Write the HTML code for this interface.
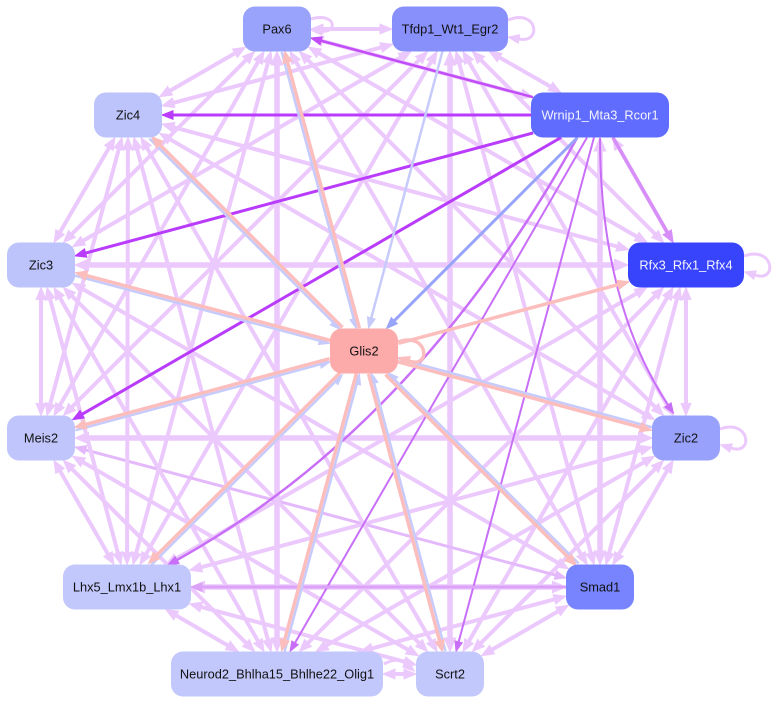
<!DOCTYPE html>
<html><head><meta charset="utf-8"><style>
html,body{margin:0;padding:0;background:#fff;}
svg{display:block;}
text{font-family:"Liberation Sans",Arial,sans-serif;font-size:12.8px;text-anchor:middle;}
.lv{stroke:#ecc9fc;stroke-width:4;fill:none;}
.lk{stroke-width:5.5;}
.lt{stroke-width:3;}
.l2{stroke:#e4b9fb;}
.pu{stroke:#b93bfb;stroke-width:3;fill:none;}
.pu2{stroke:#c24cf8;stroke-width:2.5;fill:none;}
.pu3{stroke:#d78ef8;stroke-width:3.5;fill:none;}
.pu4{stroke:#c96ef8;stroke-width:2;fill:none;}
.pu5{stroke:#dba2f8;stroke-width:3;fill:none;}
.bw{stroke:#98a4f8;stroke-width:3;fill:none;}
.bl{stroke:#c6cbfc;stroke-width:2.5;fill:none;}
.pk{stroke:#fcbdbd;stroke-width:3.5;fill:none;}
</style></head><body>
<svg id="S" width="776" height="704" viewBox="0 0 776 704" xmlns="http://www.w3.org/2000/svg">
<g id="E">
<!-- lavender ring edges -->
<line class="lv a2" x1="277" y1="29" x2="450" y2="29"/>
<line class="lv a2" x1="277" y1="29" x2="600" y2="115"/>
<line class="lv a2" x1="277" y1="29" x2="686" y2="265"/>
<line class="lv a2" x1="277" y1="29" x2="686" y2="438"/>
<line class="lv a2" x1="277" y1="29" x2="600" y2="587"/>
<line class="lv lk a2" x1="277" y1="29" x2="277" y2="674"/>
<line class="lv a2" x1="277" y1="29" x2="127" y2="587"/>
<line class="lv a2" x1="277" y1="29" x2="41" y2="438"/>
<line class="lv a2" x1="277" y1="29" x2="41" y2="265"/>
<line class="lv a2" x1="277" y1="29" x2="128" y2="115"/>
<line class="lv a2" x1="450" y1="29" x2="600" y2="115"/>
<line class="lv a2" x1="450" y1="29" x2="686" y2="265"/>
<line class="lv a2" x1="450" y1="29" x2="686" y2="438"/>
<line class="lv a2" x1="450" y1="29" x2="600" y2="587"/>
<line class="lv lk a2" x1="450" y1="29" x2="450" y2="674"/>
<line class="lv a2" x1="450" y1="29" x2="127" y2="587"/>
<line class="lv a2" x1="450" y1="29" x2="41" y2="438"/>
<line class="lv a2" x1="450" y1="29" x2="41" y2="265"/>
<line class="lv a2" x1="450" y1="29" x2="128" y2="115"/>
<line class="lv a2" x1="600" y1="115" x2="686" y2="265"/>
<line class="lv lk a2" x1="600" y1="115" x2="600" y2="587"/>
<line class="lv a2" x1="686" y1="265" x2="686" y2="438"/>
<line class="lv a2" x1="686" y1="265" x2="600" y2="587"/>
<line class="lv a2" x1="686" y1="265" x2="450" y2="674"/>
<line class="lv a2" x1="686" y1="265" x2="277" y2="674"/>
<line class="lv a2" x1="686" y1="265" x2="127" y2="587"/>
<line class="lv lk a2" x1="686" y1="265" x2="41" y2="265"/>
<line class="lv a2" x1="686" y1="265" x2="128" y2="115"/>
<line class="lv a2" x1="686" y1="438" x2="600" y2="587"/>
<line class="lv a2" x1="686" y1="438" x2="450" y2="674"/>
<line class="lv a2" x1="686" y1="438" x2="277" y2="674"/>
<line class="lv a2" x1="686" y1="438" x2="127" y2="587"/>
<line class="lv lk a2" x1="686" y1="438" x2="41" y2="438"/>
<line class="lv a2" x1="686" y1="438" x2="128" y2="115"/>
<line class="lv a2" x1="600" y1="587" x2="450" y2="674"/>
<line class="lv a2" x1="600" y1="587" x2="277" y2="674"/>
<line class="lv lk a2" x1="600" y1="587" x2="127" y2="587"/>
<line class="lv l2 lt a2" x1="600" y1="587" x2="41" y2="438"/>
<line class="lv a2" x1="600" y1="587" x2="41" y2="265"/>
<line class="lv a2" x1="450" y1="674" x2="277" y2="674"/>
<line class="lv a2" x1="450" y1="674" x2="127" y2="587"/>
<line class="lv a2" x1="450" y1="674" x2="41" y2="438"/>
<line class="lv a2" x1="450" y1="674" x2="41" y2="265"/>
<line class="lv a2" x1="450" y1="674" x2="128" y2="115"/>
<line class="lv a2" x1="277" y1="674" x2="127" y2="587"/>
<line class="lv a2" x1="277" y1="674" x2="41" y2="438"/>
<line class="lv a2" x1="277" y1="674" x2="41" y2="265"/>
<line class="lv a2" x1="277" y1="674" x2="128" y2="115"/>
<line class="lv a2" x1="127" y1="587" x2="41" y2="438"/>
<line class="lv a2" x1="127" y1="587" x2="41" y2="265"/>
<line class="lv a2" x1="127" y1="587" x2="128" y2="115"/>
<line class="lv a2" x1="41" y1="438" x2="41" y2="265"/>
<line class="lv a2" x1="41" y1="438" x2="128" y2="115"/>
<line class="lv a2" x1="41" y1="265" x2="128" y2="115"/>
<!-- Wrnip1 outgoing -->
<line class="pu a1" x1="600" y1="115" x2="128" y2="115"/>
<line class="pu a1" x1="600" y1="115" x2="41" y2="265"/>
<line class="pu a1" x1="600" y1="115" x2="41" y2="438"/>
<line class="pu2 a1" x1="600" y1="115" x2="277" y2="29"/>
<line class="pu3 a1" x1="600" y1="115" x2="686" y2="265"/>
<line class="pu4 a1" x1="600" y1="115" x2="450" y2="674"/>
<line class="pu4 a1" x1="600" y1="115" x2="277" y2="674"/>
<line class="pu5 a1" x1="600" y1="587" x2="127" y2="587"/>
<path class="pu4 ar" d="M600,138 C600,250 625,340 668,405"/>
<path class="pu4 ar" style="stroke-width:2.5" d="M577,138 Q417,426 177,560"/>
<!-- blue into Glis2 -->
<line class="bl a1 o1" x1="277" y1="29" x2="364" y2="351"/>
<line class="bl a1 o1" x1="450" y1="29" x2="364" y2="351"/>
<line class="bl a1 o1" x1="128" y1="115" x2="364" y2="351"/>
<line class="bl a1 o1" x1="41" y1="265" x2="364" y2="351"/>
<line class="bl a1 o1" x1="41" y1="438" x2="364" y2="351"/>
<line class="bl a1 o1" x1="127" y1="587" x2="364" y2="351"/>
<line class="bl a1 o1" x1="277" y1="674" x2="364" y2="351"/>
<line class="bl a1 o1" x1="450" y1="674" x2="364" y2="351"/>
<line class="bl a1 o1" x1="600" y1="587" x2="364" y2="351"/>
<line class="bl a1 o1" x1="686" y1="438" x2="364" y2="351"/>
<line class="bw a1" x1="600" y1="115" x2="364" y2="351"/>
<!-- pink out of Glis2 -->
<line class="pk a1 o1" x1="364" y1="351" x2="277" y2="29"/>
<line class="pk a1 o1" x1="364" y1="351" x2="686" y2="265"/>
<line class="pk a1 o1" x1="364" y1="351" x2="686" y2="438"/>
<line class="pk a1 o1" x1="364" y1="351" x2="600" y2="587"/>
<line class="pk a1 o1" x1="364" y1="351" x2="450" y2="674"/>
<line class="pk a1 o1" x1="364" y1="351" x2="277" y2="674"/>
<line class="pk a1 o1" x1="364" y1="351" x2="127" y2="587"/>
<line class="pk a1 o1" x1="364" y1="351" x2="41" y2="438"/>
<line class="pk a1 o1" x1="364" y1="351" x2="41" y2="265"/>
<line class="pk a1 o1" x1="364" y1="351" x2="128" y2="115"/>
<!-- loops -->
<path class="lv lt ar" d="M508,20 C538,8 542,44 519,39"/>
<path class="lv lt ar" d="M744,256 C774,245 778,283 755,275"/>
<path class="lv lt ar" d="M720,429 C750,418 754,456 731,448"/>
<path class="pk lt ar" d="M398,342 C428,331 432,369 409,361"/>
<path class="lv lt ar" d="M311,19 C336,12 338,33 322,31"/>
<path class="lv lt ar" d="M384,664 C395,658 402,660 406,664"/>
</g>
<g id="N">
<rect x="243" y="6.5" width="68" height="45" rx="12" fill="#9aa3fc"/>
<rect x="392" y="6.5" width="116" height="45" rx="12" fill="#8890fc"/>
<rect x="531" y="92.5" width="138" height="45" rx="12" fill="#5f6cfd"/>
<rect x="628" y="242.5" width="116" height="45" rx="12" fill="#3844fc"/>
<rect x="652" y="415.5" width="68" height="45" rx="12" fill="#98a2fc"/>
<rect x="566" y="564.5" width="68" height="45" rx="12" fill="#7784fd"/>
<rect x="416" y="651.5" width="68" height="45" rx="12" fill="#c3c8fc"/>
<rect x="171" y="651.5" width="212" height="45" rx="12" fill="#c3c8fc"/>
<rect x="63" y="564.5" width="128" height="45" rx="12" fill="#c3c8fc"/>
<rect x="7" y="415.5" width="68" height="45" rx="12" fill="#c0c6fc"/>
<rect x="7" y="242.5" width="68" height="45" rx="12" fill="#bdc3fb"/>
<rect x="94" y="92.5" width="68" height="45" rx="12" fill="#bdc3fb"/>
<rect x="330" y="328.5" width="68" height="45" rx="12" fill="#fcaaaa"/>
</g>
<g id="T" fill="#111">
<text x="277" y="33.5">Pax6</text>
<text x="450" y="33.5">Tfdp1_Wt1_Egr2</text>
<text x="600" y="119.5" fill="#f4f4ff">Wrnip1_Mta3_Rcor1</text>
<text x="686" y="269.5" fill="#f4f4ff">Rfx3_Rfx1_Rfx4</text>
<text x="686" y="442.5">Zic2</text>
<text x="600" y="591.5">Smad1</text>
<text x="450" y="678.5">Scrt2</text>
<text x="277" y="678.5">Neurod2_Bhlha15_Bhlhe22_Olig1</text>
<text x="127" y="591.5">Lhx5_Lmx1b_Lhx1</text>
<text x="41" y="442.5">Meis2</text>
<text x="41" y="269.5">Zic3</text>
<text x="128" y="119.5">Zic4</text>
<text x="364" y="355.5">Glis2</text>
</g>
</svg>
<script>
(function(){
var NS='http://www.w3.org/2000/svg';
var nodes=[[277,29,34],[450,29,58],[600,115,69],[686,265,58],[686,438,34],[600,587,34],[450,674,34],[277,674,106],[127,587,64],[41,438,34],[41,265,34],[128,115,34],[364,351,34]];
var HH=22.5,RR=11;
function find(x,y){for(var i=0;i<nodes.length;i++){var n=nodes[i];if(Math.abs(n[0]-x)<1&&Math.abs(n[1]-y)<1)return n;}return null;}
function dist(n,ux,uy){
  var hw=n[2],hh=HH,ax=Math.abs(ux),ay=Math.abs(uy);
  var t=Math.min(ax>1e-9?hw/ax:1e9,ay>1e-9?hh/ay:1e9);
  var px=ax*t,py=ay*t;
  if(px>hw-RR&&py>hh-RR){var cx=hw-RR,cy=hh-RR;var b=ax*cx+ay*cy,c=cx*cx+cy*cy-RR*RR;t=b+Math.sqrt(Math.max(0,b*b-c));}
  return t;
}
function arrow(ref,tx,ty,ux,uy,w,col){
  var L=8+w,h=2.5+0.6*w;var bx=tx-ux*L,by=ty-uy*L;
  var p=document.createElementNS(NS,'polygon');
  p.setAttribute('points',tx+','+ty+' '+(bx-uy*h)+','+(by+ux*h)+' '+(bx+uy*h)+','+(by-ux*h));
  p.setAttribute('fill',col);p.setAttribute('stroke',col);p.setAttribute('stroke-width','1');
  ref.parentNode.insertBefore(p,ref.nextSibling);
  return L;
}
var lines=document.querySelectorAll('#E line');
for(var i=0;i<lines.length;i++){
  var el=lines[i];
  var x1=+el.getAttribute('x1'),y1=+el.getAttribute('y1'),x2=+el.getAttribute('x2'),y2=+el.getAttribute('y2');
  var n1=find(x1,y1),n2=find(x2,y2);if(!n1||!n2)continue;
  var dx=x2-x1,dy=y2-y1,len=Math.sqrt(dx*dx+dy*dy),ux=dx/len,uy=dy/len;
  var d1=dist(n1,ux,uy),d2=dist(n2,ux,uy);
  var off=el.classList.contains('o1')?1.5:0;
  var ox=-uy*off,oy=ux*off;
  var sx=x1+ux*d1+ox,sy=y1+uy*d1+oy,ex=x2-ux*d2+ox,ey=y2-uy*d2+oy;
  var cs=getComputedStyle(el),col=cs.stroke,w=parseFloat(cs.strokeWidth)||3;
  var a1=el.classList.contains('a1'),a2=el.classList.contains('a2');
  var lsx=sx,lsy=sy,lex=ex,ley=ey;
  if(a1||a2){var L=arrow(el,ex,ey,ux,uy,w,col);lex=ex-ux*(L-1);ley=ey-uy*(L-1);}
  if(a2){var L2=arrow(el,sx,sy,-ux,-uy,w,col);lsx=sx+ux*(L2-1);lsy=sy+uy*(L2-1);}
  el.setAttribute('x1',lsx);el.setAttribute('y1',lsy);el.setAttribute('x2',lex);el.setAttribute('y2',ley);
}
var paths=document.querySelectorAll('#E path.ar');
for(var j=0;j<paths.length;j++){
  var p=paths[j];var tl=p.getTotalLength();
  var q1=p.getPointAtLength(tl),q0=p.getPointAtLength(Math.max(0,tl-2));
  var vx=q1.x-q0.x,vy=q1.y-q0.y,vl=Math.sqrt(vx*vx+vy*vy)||1;vx/=vl;vy/=vl;
  var cs2=getComputedStyle(p),w2=parseFloat(cs2.strokeWidth)||3;
  var Lp=8+w2;
  arrow(p,q1.x+vx*Lp,q1.y+vy*Lp,vx,vy,w2,cs2.stroke);
}
})();
</script>
</body></html>
